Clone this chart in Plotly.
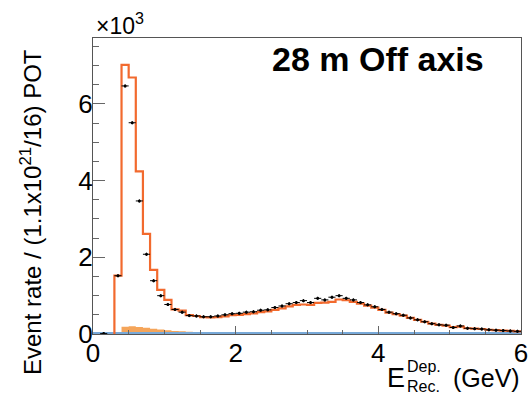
import plotly.graph_objects as go

# ---------------- data (units of 10^3 events) ----------------
bin_width = 0.1
bin_lo = [round(i * 0.1, 1) for i in range(60)]  # 0.0 ... 5.9

data_vals = [None, 0.01, None, 1.52, 6.47, 5.51, 3.47, 2.08, 1.39, 1.00,
             0.77, 0.64, 0.57, 0.48, 0.47, 0.45, 0.45, 0.47, 0.50, 0.53,
             0.54, 0.57, 0.58, 0.62, 0.63, 0.69, 0.73, 0.79, 0.82, 0.87,
             0.82, 0.93, 0.89, 0.96, 1.00, 0.93, 0.89, 0.82, 0.76, 0.71,
             0.64, 0.57, 0.53, 0.49, 0.42, 0.37, 0.32, 0.27, 0.24, 0.23,
             0.17, 0.21, 0.15, 0.14, 0.13, 0.11, 0.10, 0.09, 0.08, 0.07]
data_err = [0.04] * 60

mc_vals = [0.0, 0.0, 0.0, 1.52, 7.02, 6.69, 4.24, 2.61, 1.67, 1.15,
           0.89, 0.64, 0.61, 0.49, 0.47, 0.44, 0.43, 0.44, 0.46, 0.49,
           0.50, 0.52, 0.54, 0.57, 0.59, 0.63, 0.67, 0.72, 0.76, 0.77,
           0.76, 0.81, 0.82, 0.84, 0.90, 0.88, 0.84, 0.79, 0.74, 0.69,
           0.63, 0.56, 0.52, 0.48, 0.42, 0.37, 0.32, 0.27, 0.24, 0.22,
           0.18, 0.19, 0.15, 0.14, 0.13, 0.11, 0.10, 0.09, 0.08, 0.07]

bkg_vals = [0.0, 0.0, 0.0, 0.05, 0.19, 0.20, 0.18, 0.16, 0.14, 0.12,
            0.10, 0.08, 0.07, 0.06, 0.05, 0.05, 0.04, 0.04, 0.04, 0.04,
            0.04, 0.04, 0.04, 0.04, 0.04, 0.04, 0.04, 0.04, 0.04, 0.04,
            0.04, 0.04, 0.04, 0.04, 0.04, 0.04, 0.04, 0.04, 0.04, 0.04,
            0.03, 0.03, 0.03, 0.03, 0.03, 0.03, 0.03, 0.03, 0.03, 0.03,
            0.03, 0.03, 0.03, 0.03, 0.03, 0.03, 0.03, 0.03, 0.03, 0.03]

blue_vals = [0.01] * 60

x_ticks = [0, 2, 4, 6]
y_ticks = [0, 2, 4, 6]

# ---------------- helpers ----------------
def step_xy(lo, vals, start_index=0):
    xs = [lo[start_index]]
    ys = [0.0]
    for i in range(start_index, len(lo)):
        xs.append(lo[i])
        ys.append(vals[i])
    xs.append(lo[-1] + bin_width)
    ys.append(vals[-1])
    return xs, ys

centers = [b + bin_width / 2 for b in bin_lo]

# plot area in pixels
L, R, T, B = 93, 521, 38, 334
def px(x):
    return (x - L) / (R - L)
def py(y):
    return (B - y) / (B - T)

fig = go.Figure()

bx, by = step_xy(bin_lo, bkg_vals, 3)
fig.add_trace(go.Scatter(x=bx, y=by, mode="lines", line=dict(shape="hv", width=0, color="#f5a55a"),
                         fill="tozeroy", fillcolor="#f5a55a", hoverinfo="skip"))

ux, uy = step_xy(bin_lo, blue_vals, 0)
fig.add_trace(go.Scatter(x=ux, y=uy, mode="lines", line=dict(shape="hv", width=3, color="#78a9d8")))

mx, my = step_xy(bin_lo, mc_vals, 3)
fig.add_trace(go.Scatter(x=mx, y=my, mode="lines", line=dict(shape="hv", width=2.2, color="#f26a2e")))

fig.add_trace(go.Scatter(x=centers, y=data_vals, mode="markers",
                         marker=dict(color="black", size=3),
                         error_x=dict(type="constant", value=bin_width / 2, thickness=1, width=0, color="black"),
                         error_y=dict(type="data", array=data_err, thickness=1, width=0, color="black")))

font = "Liberation Sans, Arial, Helvetica, sans-serif"

fig.update_layout(
    width=530, height=400, autosize=False,
    margin=dict(l=L, r=530 - R, t=T, b=400 - B, autoexpand=False),
    plot_bgcolor="white", paper_bgcolor="white",
    showlegend=False,
    font=dict(family=font, color="black"),
    xaxis=dict(range=[0, 6], tickvals=x_ticks, ticks="inside", ticklen=8, tickcolor="#666",
               showline=True, linecolor="#555", linewidth=1, mirror=True, showgrid=False, zeroline=False,
               automargin=False, tickfont=dict(size=26, family=font), ticklabelstandoff=-4,
               minor=dict(dtick=0.5, ticks="inside", ticklen=4, tickcolor="#666", showgrid=False)),
    yaxis=dict(range=[0, 7.72], tickvals=y_ticks, ticks="inside", ticklen=12, tickcolor="#666",
               showline=True, linecolor="#555", linewidth=1, mirror=True, showgrid=False, zeroline=False,
               automargin=False, tickfont=dict(size=26, family=font), ticklabelstandoff=-6,
               minor=dict(dtick=0.5, ticks="inside", ticklen=6, tickcolor="#666", showgrid=False)),
)

ann = []
ann.append(dict(text="<b>28 m Off axis</b>", x=px(377.5), y=py(59), xref="paper", yref="paper",
                xanchor="center", yanchor="middle", showarrow=False, font=dict(size=34, family=font)))
ann.append(dict(text="×10<sup>3</sup>", x=px(94), y=py(41), xref="paper", yref="paper",
                xanchor="left", yanchor="bottom", showarrow=False, font=dict(size=23, family=font)))
ann.append(dict(text="Event rate / (1.1x10<sup>21</sup>/16) POT", x=px(31), y=py(212), xref="paper", yref="paper",
                xanchor="center", yanchor="middle", textangle=-90, showarrow=False, font=dict(size=24, family=font)))
ann.append(dict(text="(GeV)", x=px(522), y=py(378), xref="paper", yref="paper",
                xanchor="right", yanchor="middle", showarrow=False, font=dict(size=25, family=font)))
ann.append(dict(text="E", x=px(407), y=py(378), xref="paper", yref="paper",
                xanchor="right", yanchor="middle", showarrow=False, font=dict(size=27, family=font)))
ann.append(dict(text="Dep.", x=px(405), y=py(366), xref="paper", yref="paper",
                xanchor="left", yanchor="middle", showarrow=False, font=dict(size=16, family=font)))
ann.append(dict(text="Rec.", x=px(405), y=py(386), xref="paper", yref="paper",
                xanchor="left", yanchor="middle", showarrow=False, font=dict(size=16, family=font)))
fig.update_layout(annotations=ann)

post = ("document.body.style.margin='0';document.body.style.overflow='hidden';"
        "Plotly.relayout(document.getElementById('{plot_id}'), {width:530, height:400});")
fig.write_html("out.html", config={"displayModeBar": False, "responsive": False}, post_script=post)
